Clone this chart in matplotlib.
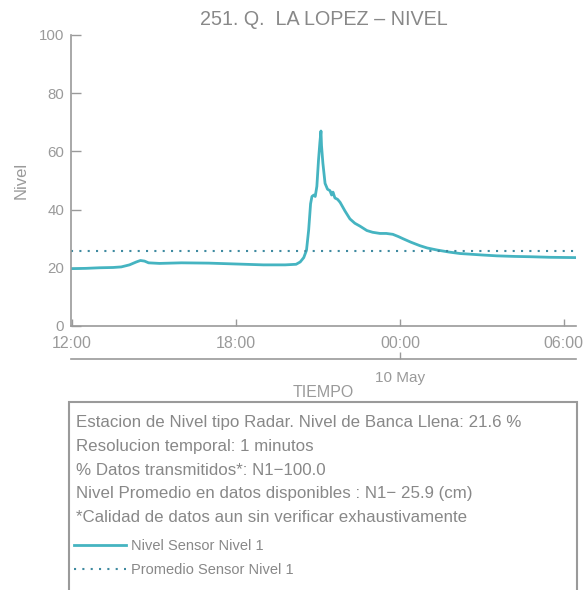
import pandas as pd
import matplotlib
matplotlib.use('Agg')
import matplotlib.pyplot as plt
import matplotlib.dates as mdates
from matplotlib.patches import Rectangle

plt.rcParams['font.family'] = ['Liberation Sans', 'DejaVu Sans']

# level readings, hours after 09 May 12:00
hours = [-0.05, 0.5, 1.0, 1.5, 1.8, 2.1, 2.35, 2.5, 2.65, 2.8, 3.2, 4.0, 5.0, 6.0,
         7.0, 7.8, 8.2, 8.35, 8.48, 8.58, 8.66, 8.73, 8.78, 8.85, 8.9, 8.96, 9.02,
         9.07, 9.11, 9.13, 9.18, 9.26, 9.35, 9.44, 9.5, 9.55, 9.62, 9.72, 9.81,
         9.99, 10.17, 10.35, 10.54, 10.79, 11.0, 11.27, 11.5, 11.74, 11.95, 12.11,
         12.4, 12.73, 13.0, 13.36, 13.8, 14.2, 15.0, 15.55, 16.2, 16.76, 17.5, 18.4]
nivel = [19.7, 19.8, 20.0, 20.1, 20.3, 21.0, 22.0, 22.5, 22.3, 21.7, 21.5, 21.7, 21.6, 21.3,
         21.0, 21.0, 21.2, 22.0, 23.5, 26.0, 33.0, 42.0, 44.5, 45.0, 44.5, 48.0, 57.0,
         63.0, 67.0, 62.0, 56.0, 49.0, 47.0, 46.5, 45.0, 46.0, 44.0, 43.5, 42.5,
         39.5, 36.8, 35.3, 34.3, 32.8, 32.2, 31.8, 31.8, 31.5, 30.7, 30.0,
         28.8, 27.6, 26.8, 26.1, 25.4, 24.9, 24.4, 24.1, 23.9, 23.8, 23.6, 23.5]
promedio = 25.9

start = pd.Timestamp('2024-05-09 12:00')
tiempo = start + pd.to_timedelta(hours, unit='h')

info_lines = [
    'Estacion de Nivel tipo Radar. Nivel de Banca Llena: 21.6 %',
    'Resolucion temporal: 1 minutos',
    '% Datos transmitidos*: N1\u2212100.0',
    'Nivel Promedio en datos disponibles : N1\u2212 25.9 (cm)',
    '*Calidad de datos aun sin verificar exhaustivamente',
]

gray = '#9a9a9a'
txt = '#888888'
line_col = '#45b4c1'
dot_col = '#3f8aa0'

fig = plt.figure(figsize=(5.84, 5.9), dpi=100)
ax = fig.add_axes([0.1216, 0.4475, 0.8644, 0.4932])

ax.plot(tiempo, nivel, color=line_col, lw=2.0, label='Nivel Sensor Nivel 1')
ax.axhline(promedio, color=dot_col, lw=1.5, ls=(0, (1, 3)), label='Promedio Sensor Nivel 1')

ax.set_ylim(0, 100)
ax.set_yticks([0, 20, 40, 60, 80, 100])
ax.set_xlim(start + pd.Timedelta(hours=-0.04), start + pd.Timedelta(hours=18.44))
ax.xaxis.set_major_locator(mdates.HourLocator(byhour=[0, 6, 12, 18]))
ax.xaxis.set_major_formatter(mdates.DateFormatter('%H:%M'))

for s in ['top', 'right']:
    ax.spines[s].set_visible(False)
for s in ['left', 'bottom']:
    ax.spines[s].set_color(gray)
    ax.spines[s].set_linewidth(1.2)
ax.tick_params(axis='y', direction='in', length=7, width=1, color=gray,
               labelcolor=gray, labelsize=10.8, pad=5)
ax.tick_params(axis='x', direction='in', length=5, width=1, color=gray,
               labelcolor=gray, labelsize=11.5, pad=7.5)

ax.set_ylabel('Nivel', color=gray, fontsize=12, labelpad=7)
ax.set_title('251. Q.  LA LOPEZ \u2013 NIVEL', color=txt, fontsize=14.2, pad=7)

sec = ax.secondary_xaxis(-0.113)
sec.set_xticks([mdates.date2num(pd.Timestamp('2024-05-10 00:00'))])
sec.set_xticklabels(['10 May'])
sec.spines['bottom'].set_color(gray)
sec.spines['bottom'].set_linewidth(1.2)
sec.tick_params(direction='in', length=5, width=1, color=gray,
                labelcolor=gray, labelsize=11, pad=8.5)
sec.set_xlabel('TIEMPO', color=gray, fontsize=11.5, labelpad=0)

# info box
fig.patches.append(Rectangle((69 / 584, -0.02), (577 - 69) / 584, (605 - 405) / 590,
                             transform=fig.transFigure, fill=False,
                             edgecolor=gray, lw=1.5))
for i, t in enumerate(info_lines):
    fig.text(76 / 584, 1 - (423 + i * 23.6) / 590, t, color=txt, fontsize=12.2,
             va='center', ha='left')

handles, labels = ax.get_legend_handles_labels()
fig.legend(handles, labels, loc='upper left', bbox_to_anchor=(74 / 584, 1 - 539 / 590),
           frameon=False, fontsize=10.5, labelcolor=txt, handlelength=3.56,
           handletextpad=0.34, labelspacing=0.7, borderpad=0, borderaxespad=0)

fig.savefig('out.png', dpi=100)
